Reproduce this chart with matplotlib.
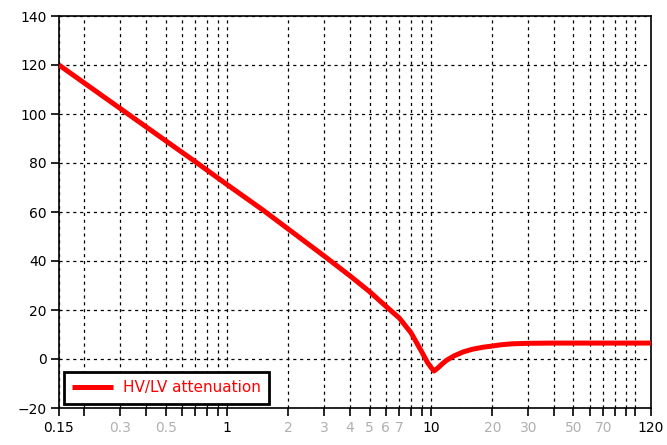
import matplotlib
matplotlib.use("Agg")
import matplotlib.pyplot as plt

# Data
freq = [0.15, 0.2, 0.3, 0.5, 0.7, 1.0, 1.5, 2.0, 3.0, 4.0, 5.0, 6.0, 7.0, 8.0,
        9.0, 9.6, 10.0, 10.35, 10.8, 11.5, 12.0, 13.0, 14.4, 16.0, 18.0, 20.0,
        22.0, 25.0, 30.0, 40.0, 50.0, 80.0, 120.0]
atten = [120.0, 112.6, 102.2, 89.1, 80.5, 71.2, 60.8, 53.0, 42.0, 34.0, 27.5,
         21.6, 16.7, 10.6, 3.0, -1.3, -3.4, -4.9, -3.7, -1.6, -0.4, 1.3, 2.9,
         4.0, 4.8, 5.3, 5.8, 6.2, 6.4, 6.5, 6.5, 6.5, 6.5]

x_ticks = [0.15, 0.2, 0.3, 0.4, 0.5, 0.6, 0.7, 0.8, 0.9, 1, 2, 3, 4, 5, 6, 7, 8, 9,
           10, 20, 30, 40, 50, 60, 70, 80, 90, 100, 120]
x_labels = ["0.15", "", "0.3", "", "0.5", "", "", "", "", "1", "2", "3", "4", "5",
            "6", "7", "", "", "10", "20", "30", "", "50", "", "70", "", "", "", "120"]
bold_labels = ["0.15", "1", "10", "120"]
y_ticks = [-20, 0, 20, 40, 60, 80, 100, 120, 140]
series_name = "HV/LV attenuation"

fig = plt.figure(figsize=(6.67, 4.45), dpi=100)
ax = fig.add_axes([59/667, 37/445, 592/667, 392/445])

ax.plot(freq, atten, color="#ff0000", linewidth=3.6, label=series_name,
        solid_capstyle="butt", solid_joinstyle="round", zorder=3)

ax.set_xscale("log")
ax.set_xlim(0.15, 120)
ax.set_ylim(-20, 140)
ax.set_xticks(x_ticks)
ax.set_xticklabels(x_labels)
ax.xaxis.set_minor_locator(matplotlib.ticker.NullLocator())
ax.set_yticks(y_ticks)

ax.tick_params(axis="both", direction="out", length=6, width=1.2, labelsize=10,
               colors="black", pad=3)
for lbl in ax.get_xticklabels():
    if lbl.get_text() not in bold_labels:
        lbl.set_color("#b0b0b0")

ax.grid(True, which="major", color="black", linestyle=(0, (2.5, 3)), linewidth=0.9)
ax.set_axisbelow(True)
for s in ax.spines.values():
    s.set_linewidth(1.2)
    s.set_color("black")

leg = ax.legend(loc="lower left", bbox_to_anchor=(0.003, 0.003), fontsize=11,
                frameon=True, fancybox=False, framealpha=1, edgecolor="black",
                handlelength=2.7, handletextpad=0.6, borderpad=0.55,
                borderaxespad=0.2)
leg.get_frame().set_linewidth(2)
for t in leg.get_texts():
    t.set_color("#ff0000")

fig.savefig("out.png", dpi=100)
